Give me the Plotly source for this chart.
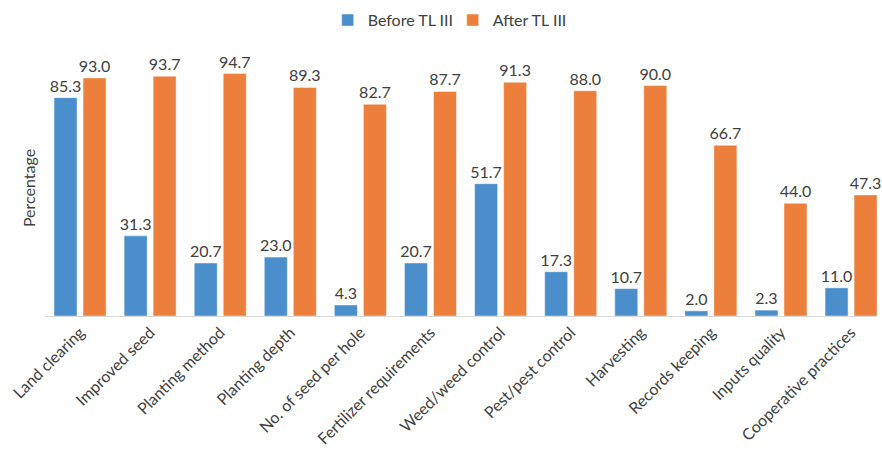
import plotly.graph_objects as go

categories = ["Land clearing", "Improved seed", "Planting method", "Planting depth",
              "No. of seed per hole", "Fertilizer requirements", "Weed/weed control",
              "Pest/pest control", "Harvesting", "Records keeping", "Inputs quality",
              "Cooperative practices"]
before = [85.3, 31.3, 20.7, 23.0, 4.3, 20.7, 51.7, 17.3, 10.7, 2.0, 2.3, 11.0]
after = [93.0, 93.7, 94.7, 89.3, 82.7, 87.7, 91.3, 88.0, 90.0, 66.7, 44.0, 47.3]

FONT = "Lato"
TXT = "#404040"

fig = go.Figure()
fig.add_trace(go.Bar(
    name="Before TL III", x=categories, y=before,
    marker=dict(color="#4a8fcc", line=dict(color="rgba(255,255,255,0.45)", width=1)),
    texttemplate="%{y:.1f}", textposition="outside", cliponaxis=False,
    constraintext="none",
    textfont=dict(family=FONT, size=16, color=TXT),
))
fig.add_trace(go.Bar(
    name="After TL III", x=categories, y=after,
    marker=dict(color="#ec7f3c", line=dict(color="rgba(255,255,255,0.45)", width=1)),
    texttemplate="%{y:.1f}", textposition="outside", cliponaxis=False,
    constraintext="none",
    textfont=dict(family=FONT, size=16, color=TXT),
))

fig.update_layout(
    width=882, height=455,
    margin=dict(l=45, r=5, t=60, b=139, autoexpand=False),
    paper_bgcolor="white", plot_bgcolor="white",
    barmode="group", bargap=0.172, bargroupgap=0.207,
    font=dict(family=FONT, size=16, color=TXT),
    showlegend=True,
    legend=dict(orientation="h", x=0.49, xanchor="center", y=0.993, yanchor="top",
                yref="container", font=dict(family=FONT, size=16, color=TXT),
                entrywidth=80, entrywidthmode="pixels",
                traceorder="normal"),
)
fig.update_xaxes(
    range=[-0.5, 11.37], showline=True, linecolor="#d9d9d9", linewidth=1,
    ticks="", tickangle=-45, showgrid=False, automargin=False,
    tickfont=dict(family=FONT, size=16, color=TXT),
)
fig.update_yaxes(
    range=[0, 100], showticklabels=False, showgrid=False, zeroline=False,
    showline=False, ticks="", automargin=False,
    title=dict(text="Percentage", font=dict(family=FONT, size=16, color=TXT), standoff=4),
)

fig.write_html("out.html", config={"displayModeBar": False},
               post_script="document.body.style.margin='0';document.body.style.overflow='hidden';")
